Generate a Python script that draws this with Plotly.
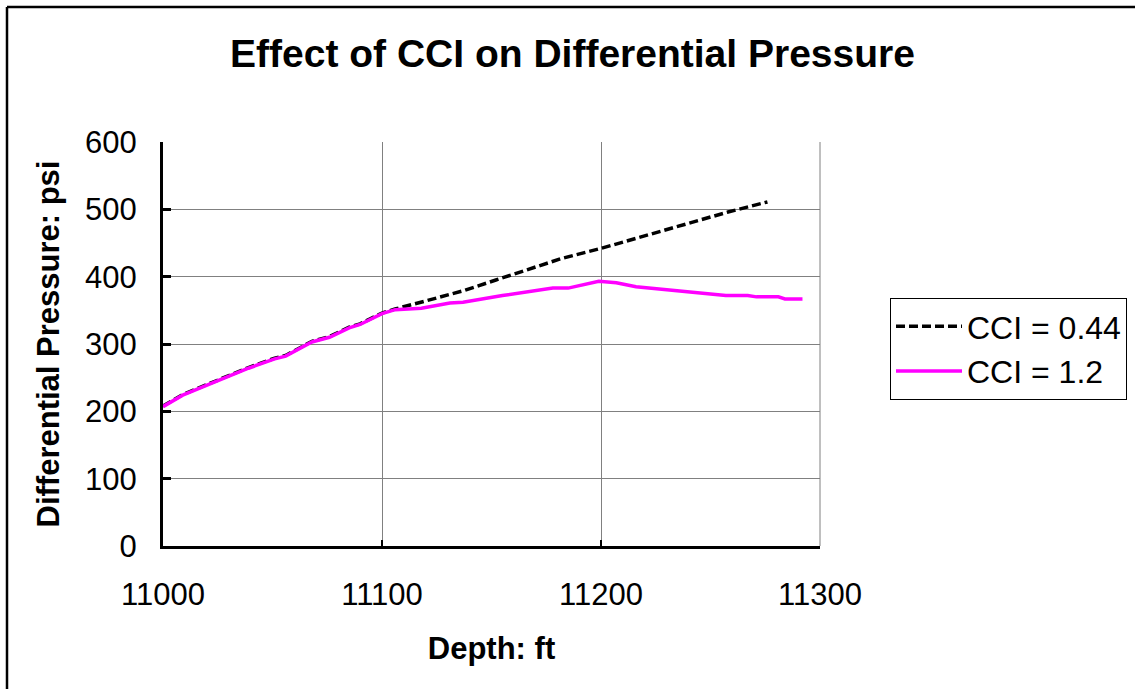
import plotly.graph_objects as go

# Data
depth_cci044 = [11000, 11009, 11024, 11039, 11051, 11056, 11068, 11076, 11085, 11090,
                11100, 11106, 11120, 11137, 11152, 11163, 11182, 11200, 11213, 11228,
                11243, 11258, 11276]
dp_cci044 = [208, 225, 245, 265, 279, 283, 304, 311, 325, 330,
             346, 352, 364, 379, 395, 407, 427, 442, 454, 468,
             483, 496, 511]

depth_cci12 = [11000, 11009, 11024, 11039, 11051, 11056, 11068, 11076, 11085, 11090,
               11100, 11106, 11118, 11131, 11137, 11155, 11178, 11185, 11199, 11207,
               11216, 11228, 11237, 11248, 11257, 11267, 11271, 11281, 11284, 11292]
dp_cci12 = [207, 224, 244, 264, 278, 282, 303, 310, 324, 329,
            345, 351, 353, 361, 362, 372, 383, 383, 393, 391,
            385, 381, 378, 375, 372, 372, 370, 370, 367, 367]

x_ticks = [11000, 11100, 11200, 11300]
y_ticks = [0, 100, 200, 300, 400, 500, 600]

FONT = "Liberation Sans, Arial, sans-serif"

fig = go.Figure()
fig.add_trace(go.Scatter(x=depth_cci044, y=dp_cci044, mode="lines", name="CCI = 0.44",
                         line=dict(color="black", width=3.5, dash="9px,4px")))
fig.add_trace(go.Scatter(x=depth_cci12, y=dp_cci12, mode="lines", name="CCI = 1.2",
                         line=dict(color="#FF00FF", width=3.5)))

W, H = 1135, 689
L, T = 163, 142
pw, ph = 657, 404
R = W - L - pw
B = H - T - ph

def px_x(px):
    return (px - L) / pw

def px_y(py):
    return (T + ph - py) / ph

fig.update_layout(
    width=W, height=H,
    margin=dict(l=L, r=R, t=T, b=B, autoexpand=False),
    paper_bgcolor="white", plot_bgcolor="white",
    font=dict(family=FONT, color="black", size=31),
    title=dict(text="<b>Effect of CCI on Differential Pressure</b>",
               x=(233 + 912) / 2 / W, xanchor="center",
               y=1 - 53 / H, yanchor="middle",
               font=dict(size=39, family=FONT, color="black")),
    showlegend=True,
    legend=dict(x=px_x(890), y=px_y(298), xanchor="left", yanchor="top",
                bordercolor="black", borderwidth=1, bgcolor="white",
                font=dict(size=32, family=FONT), itemwidth=66,
                tracegroupgap=0),
    xaxis=dict(range=[11000, 11300], tickvals=x_ticks, ticktext=[str(v) for v in x_ticks],
               showgrid=True, gridcolor="#808080", gridwidth=1,
               showline=True, linecolor="black", linewidth=3,
               ticks="inside", ticklen=6, tickwidth=2, tickcolor="black",
               tickfont=dict(size=31), ticklabelstandoff=19,
               title=dict(text="<b>Depth: ft</b>", font=dict(size=31), standoff=27),
               zeroline=False, mirror=False),
    yaxis=dict(range=[0, 600], tickvals=y_ticks,
               showgrid=True, gridcolor="#808080", gridwidth=1,
               showline=True, linecolor="black", linewidth=3,
               ticks="inside", ticklen=8, tickwidth=3, tickcolor="black",
               tickfont=dict(size=31), ticklabelstandoff=17,
               title=dict(text="<b>Differential Pressure: psi</b>", font=dict(size=31), standoff=17),
               zeroline=False),
    shapes=[
        # right edge of plot area (gray)
        dict(type="line", xref="paper", yref="paper", x0=1, x1=1, y0=0, y1=1,
             line=dict(color="#808080", width=1)),
        # outer chart frame (top and left visible)
        dict(type="line", xref="paper", yref="paper", x0=px_x(7), x1=px_x(1140),
             y0=px_y(7), y1=px_y(7), line=dict(color="black", width=2.5)),
        dict(type="line", xref="paper", yref="paper", x0=px_x(7), x1=px_x(7),
             y0=px_y(7), y1=px_y(700), line=dict(color="black", width=2.5)),
    ],
)

fig.write_html("out.html",
               config={"displayModeBar": False},
               post_script="document.body.style.margin='0';document.body.style.overflow='hidden';")
